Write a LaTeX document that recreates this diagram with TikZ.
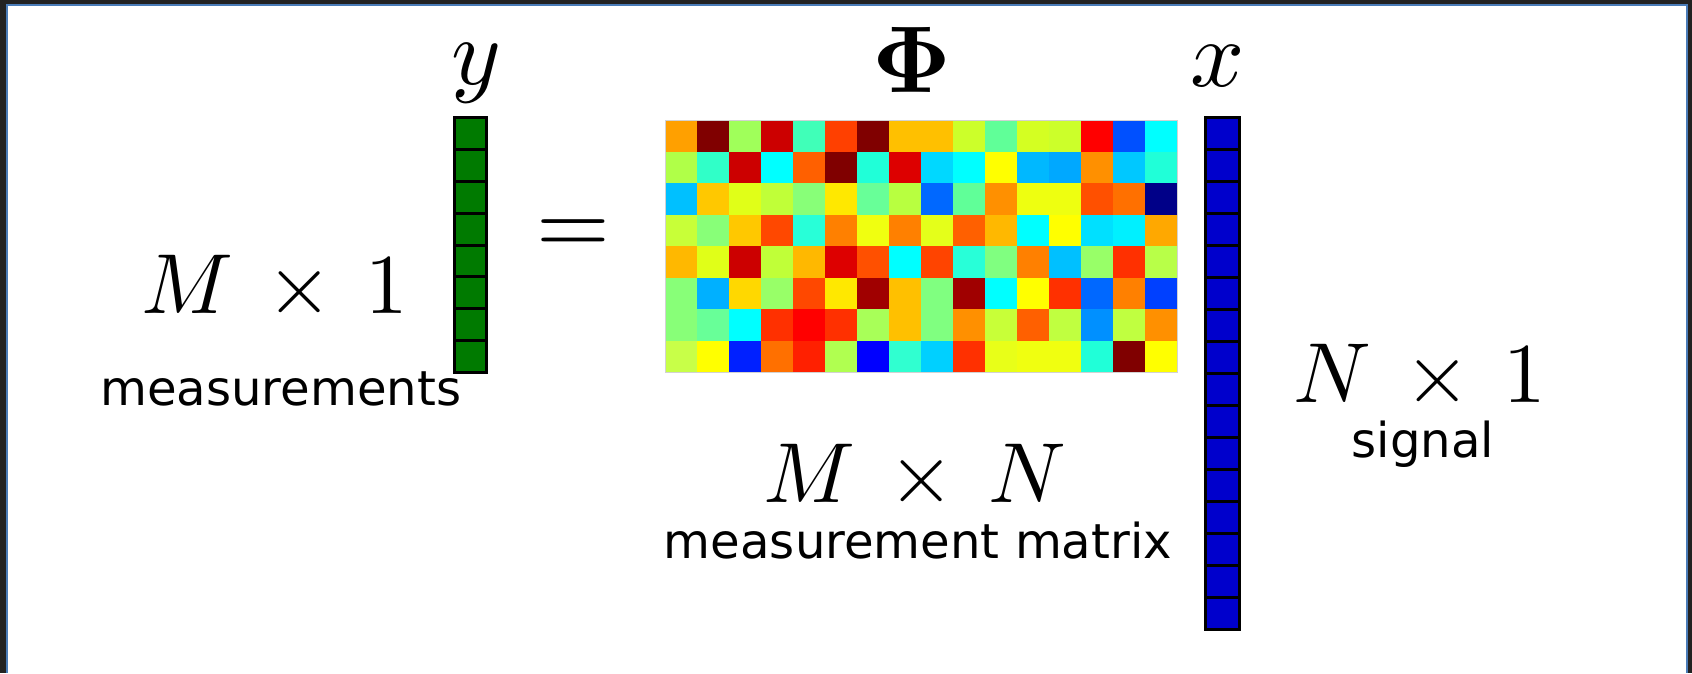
\documentclass[tikz,border=0pt]{standalone}
\usepackage{graphicx}
\usepackage{amsmath}
\usepackage[no-math]{fontspec}
\newfontfamily\labelsans{DejaVu Sans}
\definecolor{vecgreen}{HTML}{007A00}
\definecolor{vecblue}{HTML}{0000CC}
\definecolor{framedark}{HTML}{222222}
\definecolor{frameblue}{HTML}{4A7CB8}
\newcommand{\symtext}[1]{\scalebox{5.4}{#1}}
\newcommand{\dimtext}[1]{\scalebox{4.85}{#1}}
\newcommand{\wordsize}{\labelsans\fontsize{27.4}{32}\selectfont}
\tikzset{
  veccell/.style={draw=black, line width=0.06cm},
  lab/.style={anchor=base, inner sep=0pt}
}

\begin{document}
\begin{tikzpicture}[x=0.02cm, y=-0.02cm]
\useasboundingbox (0,0) rectangle (1692,673);

% Window frame
\fill[white] (0,0) rectangle (1692,673);
\fill[framedark] (0,0) rectangle (1692,4);
\fill[framedark] (0,0) rectangle (6,673);
\fill[framedark] (1688,0) rectangle (1692,673);
\fill[frameblue] (6,4) rectangle (1688,6);
\fill[frameblue] (6,4) rectangle (8,673);
\fill[frameblue] (1686,4) rectangle (1688,673);

% Measurement vector y (M entries)
\foreach \i in {0,...,7}
  \draw[veccell, fill=vecgreen] (454.2,117.5+\i*31.875) rectangle ++(32.6,31.875);

% Measurement matrix Phi (M x N)
\foreach \rowlist [count=\r from 0] in {
  {FFA000,800000,A0FF5A,CC0000,40FFB8,FF4000,800000,FFC000,FFC000,CCFF2A,60FF98,D4FF22,CCFF2A,FF0000,0050FF,00FFFF},
  {B0FF48,30FFC8,CC0000,00FFFF,FF6000,800000,20FFD8,DD0000,00D8FF,00FFFF,FFFF00,00B8FF,00A8FF,FF9000,00C8FF,20FFD8},
  {00C0FF,FFC800,E0FF18,C0FF38,88FF78,FFE800,68FF98,B8FF40,0068FF,60FF98,FF9000,EEFF10,EEFF10,FF5000,FF7000,000088},
  {C8FF38,88FF78,FFC800,FF4800,28FFD8,FF8000,F0FF10,FF8000,E4FF1A,FF6000,FFB800,00FFFF,FFFF00,00E0FF,00F0FF,FFA800},
  {FFB800,E0FF18,CC0000,C0FF38,FFB800,DD0000,FF5000,00FFFF,FF4400,28FFD8,80FF80,FF8000,00C0FF,98FF68,FF3000,B8FF48},
  {88FF78,00B0FF,FFD800,98FF68,FF4800,FFE800,A00000,FFC000,80FF80,A00000,00FFFF,FFFF00,FF3000,0068FF,FF8000,0040FF},
  {88FF78,68FF98,00FFFF,FF3000,FF0000,FF3000,A8FF58,FFC000,80FF80,FF9000,C8FF38,FF6000,C0FF40,0090FF,C0FF40,FF9000},
  {C8FF48,FFFF00,0020FF,FF7000,FF2000,B0FF50,0000FF,30FFD0,00D0FF,FF3000,E8FF18,F0FF10,F0FF10,20FFD8,800000,FFFF00}}
  \foreach \hex [count=\k from 0] in \rowlist {
    \definecolor{cellcol}{HTML}{\hex}
    \fill[cellcol] (665+\k*32,120+\r*31.5) rectangle ++(32,31.5);
  }
\draw[gray!35, line width=0.02cm] (665,120) rectangle (1177,372);

% Signal vector x (N entries)
\foreach \i in {0,...,15}
  \draw[veccell, fill=vecblue] (1205.8,117.5+\i*31.98) rectangle ++(33.4,31.98);

% Symbols above the blocks
\node[lab] (ylab) at (476,84) {\symtext{$y$}};
\node[lab] (philab) at (912,92) {\symtext{$\mathbf{\Phi}$}};
\node[lab] (xlab) at (1218,86) {\symtext{$x$}};
\node[lab] (equals) at (573,254) {\symtext{$=$}};

% Dimensions and captions
\node[lab, anchor=base west] (mdim) at (141,313) {\dimtext{$M\,\times\,1$}};
\node[lab, anchor=base west] (mword) at (100,405) {\wordsize measurements};
\node[lab] (mndim) at (915,502) {\dimtext{$M\,\times\,N$}};
\node[lab] (mnword) at (918,558) {\wordsize measurement matrix};
\node[lab] (ndim) at (1420,402) {\dimtext{$N\,\times\,1$}};
\node[lab] (nword) at (1423,457) {\wordsize signal};
\end{tikzpicture}
\end{document}
